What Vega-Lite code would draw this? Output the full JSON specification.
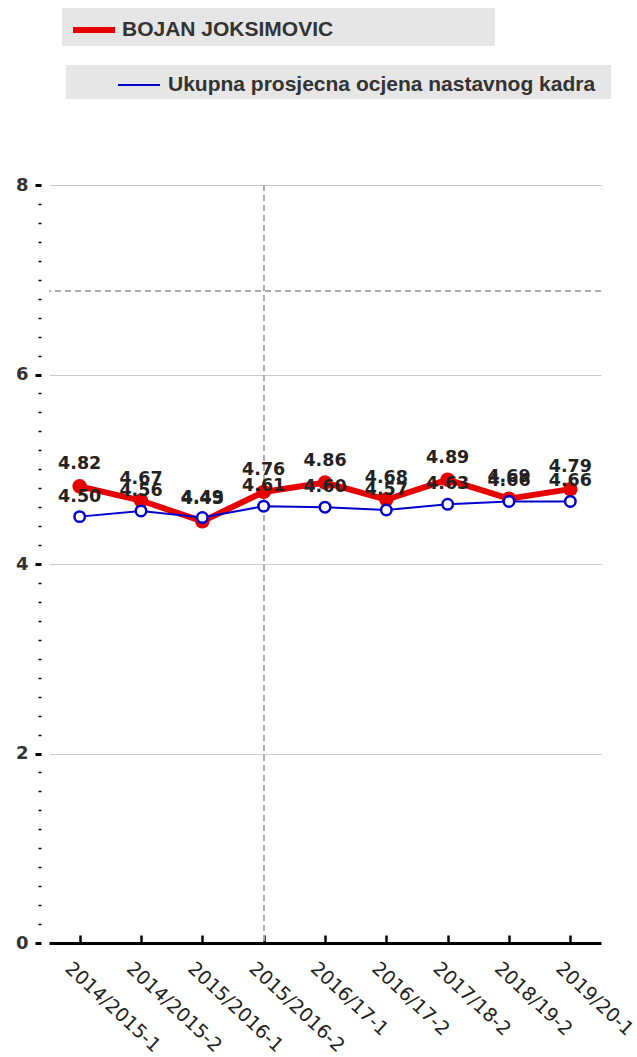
{
  "$schema": "https://vega.github.io/schema/vega-lite/v6.json",
  "width": 552,
  "height": 758,
  "autosize": {"type": "none"},
  "padding": {"left": 49, "top": 185, "right": 36, "bottom": 114},
  "background": "white",
  "config": {"view": {"stroke": null}, "font": "DejaVu Sans"},
  "data": {
    "values": [
      {"period": "2014/2015-1", "series": "BOJAN JOKSIMOVIC", "value": 4.82},
      {"period": "2014/2015-2", "series": "BOJAN JOKSIMOVIC", "value": 4.67},
      {"period": "2015/2016-1", "series": "BOJAN JOKSIMOVIC", "value": 4.45},
      {"period": "2015/2016-2", "series": "BOJAN JOKSIMOVIC", "value": 4.76},
      {"period": "2016/17-1", "series": "BOJAN JOKSIMOVIC", "value": 4.86},
      {"period": "2016/17-2", "series": "BOJAN JOKSIMOVIC", "value": 4.68},
      {"period": "2017/18-2", "series": "BOJAN JOKSIMOVIC", "value": 4.89},
      {"period": "2018/19-2", "series": "BOJAN JOKSIMOVIC", "value": 4.69},
      {"period": "2019/20-1", "series": "BOJAN JOKSIMOVIC", "value": 4.79},
      {"period": "2014/2015-1", "series": "Ukupna prosjecna ocjena nastavnog kadra", "value": 4.50},
      {"period": "2014/2015-2", "series": "Ukupna prosjecna ocjena nastavnog kadra", "value": 4.56},
      {"period": "2015/2016-1", "series": "Ukupna prosjecna ocjena nastavnog kadra", "value": 4.49},
      {"period": "2015/2016-2", "series": "Ukupna prosjecna ocjena nastavnog kadra", "value": 4.61},
      {"period": "2016/17-1", "series": "Ukupna prosjecna ocjena nastavnog kadra", "value": 4.60},
      {"period": "2016/17-2", "series": "Ukupna prosjecna ocjena nastavnog kadra", "value": 4.57},
      {"period": "2017/18-2", "series": "Ukupna prosjecna ocjena nastavnog kadra", "value": 4.63},
      {"period": "2018/19-2", "series": "Ukupna prosjecna ocjena nastavnog kadra", "value": 4.66},
      {"period": "2019/20-1", "series": "Ukupna prosjecna ocjena nastavnog kadra", "value": 4.66}
    ]
  },
  "encoding": {
    "x": {
      "field": "period",
      "type": "ordinal",
      "sort": null,
      "scale": {
        "type": "point",
        "padding": 0.5,
        "domain": ["2014/2015-1", "2014/2015-2", "2015/2016-1", "2015/2016-2", "2016/17-1", "2016/17-2", "2017/18-2", "2018/19-2", "2019/20-1"]
      },
      "axis": {
        "title": null,
        "domainColor": "#000",
        "domainWidth": 3,
        "tickColor": "#000",
        "tickWidth": 2.5,
        "tickSize": -8,
        "labelAngle": 43,
        "labelAlign": "left",
        "labelBaseline": "middle",
        "labelPadding": 30,
        "labelOffset": -12,
        "labelFontSize": 19,
        "labelColor": "#222",
        "labelFont": "DejaVu Sans",
        "labelOverlap": false,
        "grid": false
      }
    }
  },
  "layer": [
    {
      "mark": {"type": "rule", "color": "#aaaaaa", "strokeDash": [6, 4], "strokeWidth": 1},
      "encoding": {"y": {"datum": 6.88, "type": "quantitative"}, "x": null}
    },
    {
      "mark": {"type": "rule", "color": "#aaaaaa", "strokeDash": [6, 4], "strokeWidth": 1},
      "encoding": {"x": {"datum": "2015/2016-2", "type": "ordinal"}}
    },
    {
      "transform": [{"filter": "datum.series === 'BOJAN JOKSIMOVIC'"}],
      "mark": {"type": "line", "strokeWidth": 6, "point": {"filled": true, "size": 210}},
      "encoding": {
        "y": {
          "field": "value",
          "type": "quantitative",
          "scale": {"domain": [0, 8], "nice": false},
          "axis": {
            "title": null,
            "values": [0, 0.2, 0.4, 0.6, 0.8, 1, 1.2, 1.4, 1.6, 1.8, 2, 2.2, 2.4, 2.6, 2.8, 3, 3.2, 3.4, 3.6, 3.8, 4, 4.2, 4.4, 4.6, 4.8, 5, 5.2, 5.4, 5.6, 5.8, 6, 6.2, 6.4, 6.6, 6.8, 7, 7.2, 7.4, 7.6, 7.8, 8],
            "tickCount": 100,
            "labelOverlap": false,
            "labelExpr": "datum.value % 2 === 0 ? '' + datum.value : ''",
            "domain": false,
            "offset": 8,
            "tickColor": "#000",
            "tickSize": {"condition": {"test": "datum.value % 2 === 0", "value": 6}, "value": 3},
            "tickWidth": {"condition": {"test": "datum.value % 2 === 0", "value": 3}, "value": 1.5},
            "grid": true,
            "gridColor": "#c8c8c8",
            "gridWidth": 1,
            "gridOpacity": {"condition": {"test": "datum.value % 2 === 0 && datum.value > 0", "value": 1}, "value": 0},
            "labelFont": "DejaVu Sans",
            "labelFontSize": 18,
            "labelFontWeight": "bold",
            "labelColor": "#333",
            "labelPadding": 7
          }
        },
        "color": {
          "field": "series",
          "type": "nominal",
          "scale": {"range": ["#e60000"]},
          "legend": {
            "title": null,
            "orient": "none",
            "legendX": 13,
            "legendY": -177,
            "fillColor": "#e6e6e6",
            "padding": 4,
            "symbolType": "M-1.4,0H1.4",
            "symbolSize": 900,
            "symbolStrokeWidth": 6,
            "symbolOffset": 10,
            "labelOffset": 10,
            "labelLimit": 0,
            "labelFont": "Liberation Sans",
            "labelFontSize": 21,
            "labelFontWeight": "bold",
            "labelColor": "#333",
            "labelExpr": "datum.label + '\u00a0\u00a0\u00a0\u00a0\u00a0\u00a0\u00a0\u00a0\u00a0\u00a0\u00a0\u00a0\u00a0\u00a0\u00a0\u00a0\u00a0\u00a0\u00a0\u00a0\u00a0\u00a0\u00a0\u00a0\u00a0\u00a0\u00a0\u200b'"
          }
        }
      }
    },
    {
      "transform": [{"filter": "datum.series !== 'BOJAN JOKSIMOVIC'"}],
      "mark": {"type": "line", "strokeWidth": 2, "point": {"filled": true, "fill": "white", "stroke": "#0000cc", "strokeWidth": 2.5, "size": 110}},
      "encoding": {
        "y": {"field": "value", "type": "quantitative"},
        "color": {
          "field": "series",
          "type": "nominal",
          "scale": {"range": ["#0000cc"]},
          "legend": {
            "title": null,
            "orient": "none",
            "legendX": 17,
            "legendY": -120,
            "fillColor": "#e6e6e6",
            "padding": 4,
            "symbolType": "M-1.4,0H1.4",
            "symbolSize": 900,
            "symbolStrokeWidth": 2,
            "symbolOffset": 53,
            "labelOffset": 13,
            "labelLimit": 0,
            "labelFont": "Liberation Sans",
            "labelFontSize": 21,
            "labelFontWeight": "bold",
            "labelColor": "#333",
            "labelExpr": "datum.label + '\u00a0\u00a0\u200b'"
          }
        }
      }
    },
    {
      "transform": [{"filter": "datum.series === 'BOJAN JOKSIMOVIC'"}],
      "mark": {"type": "text", "dy": -22, "baseline": "middle", "fontSize": 17.5, "fontWeight": "bold", "color": "#222", "font": "DejaVu Sans"},
      "encoding": {
        "y": {"field": "value", "type": "quantitative"},
        "text": {"field": "value", "type": "quantitative", "format": ".2f"}
      }
    },
    {
      "transform": [{"filter": "datum.series !== 'BOJAN JOKSIMOVIC'"}],
      "mark": {"type": "text", "dy": -20, "baseline": "middle", "fontSize": 17.5, "fontWeight": "bold", "color": "#222", "font": "DejaVu Sans"},
      "encoding": {
        "y": {"field": "value", "type": "quantitative"},
        "text": {"field": "value", "type": "quantitative", "format": ".2f"}
      }
    }
  ],
  "resolve": {"scale": {"color": "independent"}, "legend": {"color": "independent"}}
}
